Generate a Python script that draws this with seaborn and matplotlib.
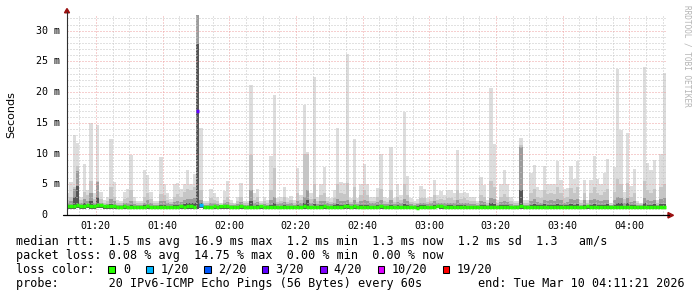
import numpy as np
import pandas as pd
import matplotlib
matplotlib.use("Agg")
import matplotlib.pyplot as plt
import matplotlib.transforms as mtransforms
from matplotlib.patches import Rectangle, Polygon
from matplotlib.lines import Line2D
import seaborn as sns

# ---------------- data (ms), one value per minute from 01:11 ----------------
rtt_max = [
    3.5, 5.3, 13.1, 11.7, 3.0, 8.3, 4.0, 14.9, 3.5, 14.6,
    3.8, 2.4, 3.0, 12.3, 5.4, 2.5, 2.2, 3.8, 4.3, 9.7,
    3.0, 2.2, 2.2, 7.3, 6.5, 3.7, 2.2, 2.3, 9.5, 5.0,
    3.5, 2.6, 5.1, 5.2, 4.2, 5.0, 7.4, 5.1, 6.6, 32.5,
    14.2, 2.2, 2.2, 4.2, 3.6, 3.0, 1.9, 3.9, 5.5, 2.4,
    2.0, 2.9, 5.2, 2.2, 2.2, 21.2, 3.5, 4.3, 2.2, 3.0,
    2.4, 9.6, 19.6, 2.7, 3.0, 4.6, 2.7, 3.1, 2.4, 7.6,
    3.2, 17.9, 10.2, 3.5, 22.4, 2.9, 5.1, 7.8, 3.0, 2.7,
    4.1, 14.2, 5.3, 5.2, 26.2, 2.8, 12.3, 2.7, 5.0, 8.3,
    5.0, 3.0, 3.0, 4.4, 9.9, 2.9, 2.7, 11.1, 2.7, 5.1,
    3.2, 16.8, 6.4, 2.7, 2.2, 2.6, 4.7, 4.3, 2.7, 3.0,
    5.7, 3.2, 3.9, 3.2, 4.1, 4.1, 3.5, 10.5, 3.6, 3.8,
    3.5, 2.9, 2.9, 2.2, 6.2, 4.9, 2.4, 20.6, 11.6, 2.4,
    5.1, 7.3, 5.1, 3.0, 2.3, 2.3, 12.5, 2.4, 2.4, 6.8,
    8.1, 4.6, 4.1, 8.0, 5.1, 5.1, 5.1, 8.8, 5.7, 4.2,
    4.4, 8.0, 5.9, 8.8, 2.4, 5.7, 2.4, 5.7, 9.6, 5.9,
    5.1, 6.9, 9.1, 1.9, 7.8, 23.7, 13.8, 3.8, 13.4, 4.7,
    7.5, 2.2, 2.0, 24.1, 8.4, 7.3, 9.0, 2.4, 10.0, 23.1,
]
rtt_p90 = [
    2.5, 3.0, 4.5, 8.0, 2.4, 3.8, 3.2, 5.5, 2.6, 5.6,
    2.6, 2.0, 2.3, 4.6, 3.0, 2.0, 1.9, 2.6, 2.8, 4.0,
    2.2, 1.9, 1.9, 3.0, 3.6, 2.6, 1.9, 2.0, 3.4, 3.2,
    2.4, 2.1, 3.0, 3.4, 3.0, 3.8, 4.2, 4.0, 4.6, 32.5,
    4.0, 1.9, 1.9, 2.8, 2.5, 2.2, 1.7, 2.5, 3.0, 2.0,
    1.8, 2.2, 3.0, 1.9, 2.0, 9.8, 2.5, 3.0, 1.9, 2.2,
    2.0, 4.0, 7.6, 2.1, 2.3, 3.0, 2.1, 2.4, 2.0, 3.5,
    2.4, 10.0, 10.0, 2.6, 5.0, 2.2, 3.2, 3.5, 2.3, 2.1,
    2.8, 5.0, 3.5, 3.4, 5.2, 2.1, 4.5, 2.1, 3.2, 4.0,
    3.2, 2.3, 2.3, 3.0, 4.2, 2.2, 2.1, 4.0, 2.1, 3.0,
    2.4, 5.0, 3.2, 2.1, 1.9, 2.0, 2.8, 2.8, 2.1, 2.3,
    3.2, 2.4, 2.6, 2.4, 2.8, 2.8, 2.5, 4.0, 2.6, 2.7,
    2.5, 2.2, 2.2, 1.9, 3.2, 3.0, 2.0, 5.5, 4.5, 2.0,
    3.0, 3.4, 3.0, 2.3, 1.9, 1.9, 11.4, 2.0, 2.0, 3.5,
    4.2, 3.0, 2.8, 4.0, 3.4, 3.6, 3.4, 4.5, 3.6, 2.8,
    3.0, 4.4, 3.6, 4.5, 2.0, 3.6, 2.0, 3.6, 4.5, 3.6,
    3.2, 3.8, 4.2, 1.7, 3.8, 5.8, 5.0, 2.6, 5.2, 3.0,
    3.6, 1.9, 1.8, 5.5, 4.0, 3.6, 4.2, 2.0, 4.5, 5.0,
]
rtt_p75 = [
    1.9, 2.2, 4.3, 7.1, 1.9, 2.6, 2.2, 3.5, 2.0, 5.4,
    2.0, 1.7, 1.8, 2.6, 2.2, 1.7, 1.7, 2.0, 2.0, 2.3,
    1.8, 1.7, 1.7, 2.0, 2.4, 2.0, 1.7, 1.7, 2.2, 2.2,
    1.9, 1.8, 2.1, 2.3, 2.1, 2.5, 2.6, 2.6, 2.8, 32.5,
    2.4, 1.7, 1.7, 2.0, 1.9, 1.8, 1.6, 1.9, 2.1, 1.7,
    1.6, 1.8, 2.1, 1.7, 1.7, 4.0, 1.9, 2.1, 1.7, 1.8,
    1.7, 2.4, 3.0, 1.8, 1.9, 2.1, 1.8, 1.9, 1.7, 2.2,
    1.9, 3.0, 4.0, 2.0, 2.6, 1.8, 2.2, 2.2, 1.9, 1.8,
    2.0, 2.6, 2.2, 2.2, 2.5, 1.8, 2.4, 1.8, 2.2, 2.4,
    2.2, 1.9, 1.9, 2.1, 2.4, 1.8, 1.8, 2.4, 1.8, 2.1,
    1.9, 2.6, 2.2, 1.8, 1.7, 1.8, 2.0, 2.0, 1.8, 1.9,
    2.2, 1.9, 2.0, 1.9, 2.0, 2.0, 1.9, 2.4, 2.0, 2.0,
    1.9, 1.8, 1.8, 1.7, 2.2, 2.1, 1.7, 2.8, 2.6, 1.7,
    2.1, 2.3, 2.1, 1.8, 1.7, 1.7, 11.0, 1.7, 1.7, 2.3,
    2.6, 2.1, 2.0, 2.5, 2.3, 2.4, 2.3, 2.6, 2.4, 2.0,
    2.1, 2.6, 2.4, 2.6, 1.7, 2.4, 1.7, 2.4, 2.6, 2.4,
    2.2, 2.4, 2.5, 1.6, 2.4, 3.0, 2.8, 1.9, 2.8, 2.1,
    2.3, 1.7, 1.6, 2.8, 2.4, 2.3, 2.5, 1.7, 2.6, 2.7,
]
rtt_p60 = [
    1.6, 1.7, 3.0, 4.8, 1.6, 1.9, 1.7, 2.2, 1.6, 3.0,
    1.7, 1.5, 1.5, 1.8, 1.7, 1.4, 1.4, 1.6, 1.5, 1.6,
    1.5, 1.4, 1.4, 1.6, 1.7, 1.5, 1.4, 1.4, 1.6, 1.6,
    1.5, 1.5, 1.6, 1.7, 1.6, 1.8, 1.9, 1.9, 2.0, 27.8,
    1.9, 1.4, 1.4, 1.5, 1.5, 1.4, 1.6, 1.5, 1.6, 1.4,
    1.4, 1.5, 1.6, 1.4, 1.4, 2.2, 1.5, 1.6, 1.5, 1.5,
    1.4, 1.7, 2.0, 1.5, 1.5, 1.6, 1.5, 1.5, 1.4, 1.6,
    1.5, 2.0, 2.4, 1.5, 1.8, 1.5, 1.6, 1.6, 1.5, 1.5,
    1.6, 1.8, 1.6, 1.6, 1.8, 1.5, 1.7, 1.5, 1.6, 1.7,
    1.6, 1.5, 1.5, 1.6, 1.7, 1.5, 1.5, 1.7, 1.5, 1.6,
    1.5, 1.8, 1.6, 1.5, 1.4, 1.5, 1.6, 1.6, 1.5, 1.5,
    1.6, 1.5, 1.6, 1.5, 1.6, 1.6, 1.5, 1.7, 1.6, 1.6,
    1.5, 1.5, 1.5, 1.4, 1.6, 1.6, 1.4, 1.9, 1.8, 1.5,
    1.6, 1.7, 1.6, 1.5, 1.4, 1.5, 4.0, 1.5, 1.5, 1.7,
    1.8, 1.6, 1.6, 1.8, 1.7, 1.7, 1.7, 1.8, 1.7, 1.6,
    1.6, 1.8, 1.7, 1.8, 1.5, 1.7, 1.5, 1.7, 1.8, 1.7,
    1.7, 1.7, 1.8, 1.4, 1.7, 2.0, 1.9, 1.5, 1.9, 1.6,
    1.7, 1.5, 1.4, 1.9, 1.7, 1.7, 1.8, 1.5, 1.8, 1.8,
]
rtt_median = [
    1.5, 1.5, 1.4, 1.6, 1.4, 1.4, 1.6, 1.5, 1.4, 1.6,
    1.6, 1.4, 1.4, 1.4, 1.4, 1.3, 1.3, 1.4, 1.3, 1.3,
    1.3, 1.3, 1.3, 1.3, 1.4, 1.3, 1.3, 1.3, 1.3, 1.3,
    1.3, 1.3, 1.3, 1.3, 1.4, 1.3, 1.4, 1.4, 1.3, 17.0,
    1.7, 1.3, 1.3, 1.3, 1.4, 1.3, 1.5, 1.4, 1.4, 1.3,
    1.3, 1.3, 1.4, 1.3, 1.3, 1.3, 1.3, 1.3, 1.4, 1.3,
    1.3, 1.3, 1.3, 1.3, 1.3, 1.3, 1.3, 1.3, 1.3, 1.3,
    1.3, 1.4, 1.3, 1.3, 1.3, 1.3, 1.3, 1.4, 1.3, 1.3,
    1.3, 1.3, 1.3, 1.4, 1.5, 1.3, 1.4, 1.3, 1.3, 1.3,
    1.3, 1.3, 1.3, 1.3, 1.4, 1.3, 1.3, 1.3, 1.3, 1.3,
    1.3, 1.3, 1.3, 1.3, 1.3, 1.2, 1.3, 1.3, 1.3, 1.3,
    1.3, 1.5, 1.4, 1.3, 1.3, 1.3, 1.3, 1.3, 1.3, 1.3,
    1.3, 1.3, 1.3, 1.3, 1.3, 1.3, 1.3, 1.3, 1.3, 1.3,
    1.3, 1.3, 1.3, 1.3, 1.3, 1.3, 1.5, 1.3, 1.3, 1.3,
    1.3, 1.3, 1.3, 1.3, 1.3, 1.3, 1.3, 1.3, 1.3, 1.3,
    1.3, 1.3, 1.3, 1.3, 1.3, 1.3, 1.4, 1.3, 1.3, 1.3,
    1.3, 1.3, 1.3, 1.3, 1.3, 1.3, 1.3, 1.3, 1.3, 1.3,
    1.3, 1.3, 1.3, 1.3, 1.3, 1.3, 1.3, 1.3, 1.3, 1.3,
]
rtt_min = [
    1.0, 1.0, 1.0, 1.1, 1.0, 1.0, 1.1, 1.0, 1.0, 1.1,
    1.1, 1.0, 1.0, 1.0, 1.0, 1.0, 1.0, 1.0, 1.0, 1.0,
    1.0, 1.0, 1.0, 1.0, 1.0, 1.0, 1.0, 1.0, 1.0, 1.0,
    1.0, 1.0, 1.0, 1.0, 1.0, 1.0, 1.0, 1.0, 1.0, 1.0,
    1.1, 1.0, 1.0, 1.0, 1.0, 1.0, 1.0, 1.0, 1.0, 1.0,
    1.0, 1.0, 1.0, 1.0, 1.0, 1.0, 1.0, 1.0, 1.0, 1.0,
    1.0, 1.0, 1.0, 1.0, 1.0, 1.0, 1.0, 1.0, 1.0, 1.0,
    1.0, 1.0, 1.0, 1.0, 1.0, 1.0, 1.0, 1.0, 1.0, 1.0,
    1.0, 1.0, 1.0, 1.0, 1.0, 1.0, 1.0, 1.0, 1.0, 1.0,
    1.0, 1.0, 1.0, 1.0, 1.0, 1.0, 1.0, 1.0, 1.0, 1.0,
    1.0, 1.0, 1.0, 1.0, 1.0, 0.9, 1.0, 1.0, 1.0, 1.0,
    1.0, 1.1, 1.0, 1.0, 1.0, 1.0, 1.0, 1.0, 1.0, 1.0,
    1.0, 1.0, 1.0, 1.0, 1.0, 1.0, 1.0, 1.0, 1.0, 1.0,
    1.0, 1.0, 1.0, 1.0, 1.0, 1.0, 1.0, 1.0, 1.0, 1.0,
    1.0, 1.0, 1.0, 1.0, 1.0, 1.0, 1.0, 1.0, 1.0, 1.0,
    1.0, 1.0, 1.0, 1.0, 1.0, 1.0, 1.0, 1.0, 1.0, 1.0,
    1.0, 1.0, 1.0, 1.0, 1.0, 1.0, 1.0, 1.0, 1.0, 1.0,
    1.0, 1.0, 1.0, 1.0, 1.0, 1.0, 1.0, 1.0, 1.0, 1.0,
]
# lost pings (of 20) per minute: 3 lost at 01:50, 1 lost at 01:51
lost_pings = [0] * 39 + [3, 1] + [0] * 139

loss_labels = ["0", "1/20", "2/20", "3/20", "4/20", "10/20", "19/20"]
loss_colors = ["#26ff00", "#00b8ff", "#0059ff", "#5e00ff", "#7e00ff", "#dd00ff", "#ff0000"]
loss_steps = [0, 1, 2, 3, 4, 10, 19]

x_tick_minutes = [80, 100, 120, 140, 160, 180, 200, 220, 240]
x_tick_labels = ["01:20", "01:40", "02:00", "02:20", "02:40", "03:00", "03:20", "03:40", "04:00"]
y_tick_values = [0, 5, 10, 15, 20, 25, 30]

start_minute = 71          # 01:11
view_start, view_end = 71.35, 251.35   # 01:11:21 .. 04:11:21

stat_lines = [
    "median rtt:  1.5 ms avg  16.9 ms max  1.2 ms min  1.3 ms now  1.2 ms sd  1.3   am/s",
    "packet loss: 0.08 % avg  14.75 % max  0.00 % min  0.00 % now",
    "loss color:",
    "probe:       20 IPv6-ICMP Echo Pings (56 Bytes) every 60s",
]
end_text = "end: Tue Mar 10 04:11:21 2026"

# ---------------- figure ----------------
sns.set_theme(style="white")
plt.rcParams["font.family"] = ["DejaVu Sans Mono", "DejaVu Sans"]

W, H = 697, 297
fig = plt.figure(figsize=(W / 100, H / 100), dpi=100, facecolor="white")
L, T, R, B = 67, 15, 667, 215
ax = fig.add_axes([L / W, 1 - B / H, (R - L) / W, (B - T) / H])
ax.set_facecolor("white")


def fx(x):
    return x / W


def fy(y):
    return 1 - y / H


n = len(rtt_max)
edges = start_minute + np.arange(n + 1)


def st(a):
    a = np.asarray(a, dtype=float)
    return np.append(a, a[-1])


lo = st(rtt_min)
for top, col in [(rtt_max, "#dddddd"), (rtt_p90, "#c6c6c6"),
                 (rtt_p75, "#9c9c9c"), (rtt_p60, "#555555")]:
    ax.fill_between(edges, lo, st(top), step="post", color=col, lw=0, zorder=1)

# median line coloured by loss (seaborn, one short segment per minute)
lab_of = dict(zip(loss_steps, loss_labels))
rows = []
for k in range(n):
    for t in (start_minute + k, start_minute + k + 1):
        rows.append({"t": t, "rtt": rtt_median[k], "col": k, "loss": lab_of[lost_pings[k]]})
df = pd.DataFrame(rows)
sns.lineplot(data=df, x="t", y="rtt", units="col", estimator=None, hue="loss",
             palette=dict(zip(loss_labels, loss_colors)), legend=False,
             linewidth=2.5, solid_capstyle="butt", ax=ax, zorder=4)

ax.set_xlim(view_start, view_end)
ax.set_ylim(0, 32.55)
ax.set_xlabel("")
ax.set_ylabel("")

# grid (dotted, drawn over the smoke like rrdtool)
ax.set_xticks(x_tick_minutes)
ax.set_xticks([m for m in range(75, 252, 5) if m not in x_tick_minutes], minor=True)
ax.set_yticks(y_tick_values)
ax.set_yticks([v for v in range(1, 33) if v % 5], minor=True)
ax.set_axisbelow(False)
ax.grid(which="major", color="#eea0a0", linestyle=(0, (1, 2)), linewidth=0.72, zorder=2.5)
ax.grid(which="minor", color="#c4c4c4", linestyle=(0, (1, 2)), linewidth=0.72, zorder=2.5)
for s in ax.spines.values():
    s.set_visible(False)
ax.tick_params(which="major", length=2.6, width=0.72, color="#e89090", direction="out")
ax.tick_params(which="minor", length=1.6, width=0.72, color="#c8c8c8", direction="out")
ax.tick_params(axis="x", which="major", pad=1.5, labelsize=7.2, labelcolor="black")
ax.set_xticklabels(x_tick_labels, family="DejaVu Sans Mono")
ax.set_yticklabels([])

# y tick labels
ytr = mtransforms.blended_transform_factory(fig.transFigure, ax.transData)
for v in y_tick_values:
    if v == 0:
        fig.text(fx(47.5), v, "0", transform=ytr, ha="right", va="center",
                 fontsize=7.2, family="DejaVu Sans Mono", color="black")
    else:
        fig.text(fx(60), v, f"{v} m", transform=ytr, ha="right", va="center",
                 fontsize=7.2, family="DejaVu Sans Mono", color="black")

# axis lines and arrows
fig.add_artist(Line2D([fx(67), fx(67)], [fy(215), fy(12)], color="#303030", lw=0.8))
fig.add_artist(Line2D([fx(63), fx(669)], [fy(215.3), fy(215.3)], color="black", lw=0.9))
fig.add_artist(Polygon([(fx(64.5), fy(12.8)), (fx(69.5), fy(12.8)), (fx(67), fy(8.5))],
                       closed=True, color="#9a1010", transform=fig.transFigure))
fig.add_artist(Polygon([(fx(668), fy(212.5)), (fx(668), fy(218)), (fx(673.5), fy(215.3))],
                       closed=True, color="#9a1010", transform=fig.transFigure))

# axis title and watermark
fig.text(fx(11), fy(114.5), "Seconds", rotation=90, ha="center", va="center",
         fontsize=8, family="DejaVu Sans", color="black")
fig.text(fx(687), fy(5), "RRDTOOL / TOBI OETIKER", rotation=270, ha="center", va="top",
         fontsize=5.6, family="DejaVu Sans Mono", color="#b4b4b4")

# legend / statistics text
line_y = [241.5, 255.5, 269.5, 283.5]
for s, yy in zip(stat_lines, line_y):
    fig.text(fx(16.5), fy(yy), s, ha="left", va="center", fontsize=8.5,
             family="DejaVu Sans Mono", color="black")
fig.text(fx(478), fy(283.5), end_text, ha="left", va="center", fontsize=8.5,
         family="DejaVu Sans Mono", color="black")

sq_x = [108.3, 146.0, 204.0, 261.7, 320.0, 377.7, 442.7]
lab_x = [123.5, 160.2, 217.8, 275.5, 333.8, 391.8, 456.2]
for c, lab, sx, lx in zip(loss_colors, loss_labels, sq_x, lab_x):
    fig.add_artist(Rectangle((fx(sx), fy(273.3)), 6.7 / W, 7.4 / H, transform=fig.transFigure,
                             facecolor=c, edgecolor="black", lw=0.75))
    fig.text(fx(lx), fy(269.5), lab, ha="left", va="center", fontsize=8.5,
             family="DejaVu Sans Mono", color="black")

fig.savefig("out.png", dpi=100, facecolor="white")
